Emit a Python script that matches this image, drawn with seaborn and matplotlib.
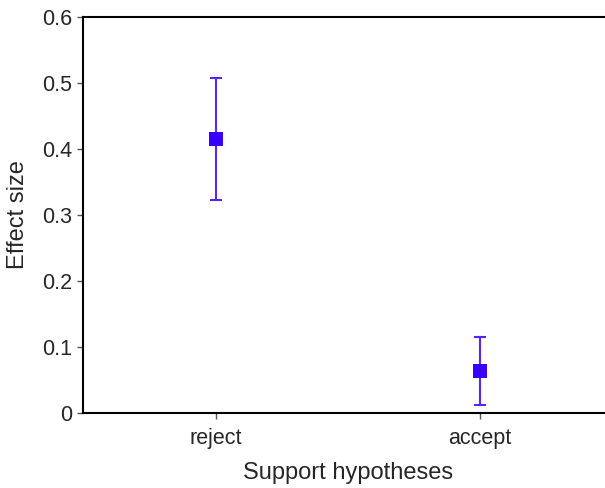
import matplotlib
matplotlib.use("Agg")
import matplotlib.pyplot as plt
import pandas as pd
import seaborn as sns
from matplotlib.ticker import FuncFormatter

CATEGORIES = ["reject", "accept"]
EFFECT_SIZE = [0.415, 0.063]
CI_LOW = [0.323, 0.012]
CI_HIGH = [0.508, 0.115]

Y_TICKS = [0, 0.1, 0.2, 0.3, 0.4, 0.5, 0.6]

COLOR = "#3a00ff"
ERR_COLOR = "#5526ff"

sns.set_style("ticks")
plt.rcParams["font.family"] = ["Liberation Sans", "DejaVu Sans"]

data = pd.DataFrame(
    {
        "hypothesis": CATEGORIES,
        "effect": EFFECT_SIZE,
        "low": CI_LOW,
        "high": CI_HIGH,
    }
)

fig = plt.figure(figsize=(6.05, 4.88), dpi=100)
ax = fig.add_axes([0.137, 0.1537, 0.875, 0.8115])

ax.errorbar(
    x=range(len(data)),
    y=data["effect"],
    yerr=[data["effect"] - data["low"], data["high"] - data["effect"]],
    fmt="none",
    ecolor=ERR_COLOR,
    elinewidth=1.5,
    capsize=4.5,
    capthick=1.5,
    zorder=2,
)
sns.scatterplot(
    data=data,
    x="hypothesis",
    y="effect",
    marker="s",
    s=105,
    color=COLOR,
    edgecolor=COLOR,
    linewidth=0,
    ax=ax,
    zorder=3,
)

ax.set_xlim(-0.504, 1.5)
ax.set_ylim(0, 0.6)
ax.set_yticks(Y_TICKS)
ax.yaxis.set_major_formatter(FuncFormatter(lambda v, _: "0" if v == 0 else f"{v:.1f}"))

ax.set_xlabel("Support hypotheses", fontsize=17, labelpad=9)
ax.set_ylabel("Effect size", fontsize=17, labelpad=9)
ax.tick_params(axis="both", labelsize=15.5, length=4, width=1, color="#555555")
ax.tick_params(axis="y", pad=4)
ax.tick_params(axis="x", pad=7)

for side in ["left", "bottom", "top"]:
    ax.spines[side].set_linewidth(1.5)
    ax.spines[side].set_color("black")
ax.spines["right"].set_visible(False)

fig.savefig("out.png", dpi=100)
